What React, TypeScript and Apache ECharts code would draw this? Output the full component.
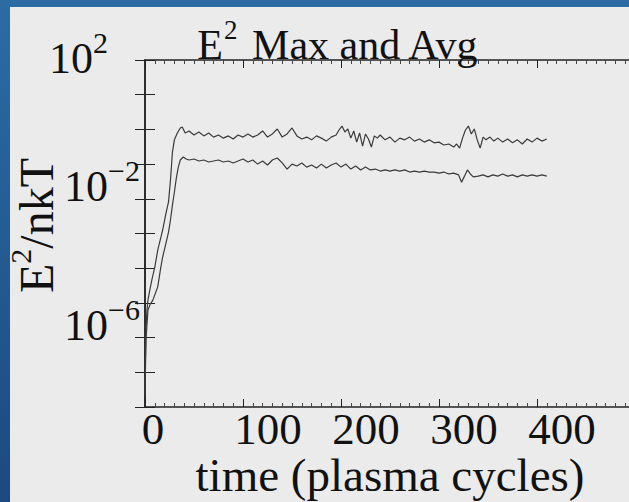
import React, { useEffect, useRef } from "react";
import * as echarts from "echarts";

const xTickLabels = [0, 100, 200, 300, 400];
const yLabelExponents = [2, -2, -6];

const maxTime = [
  0, 1, 2, 3, 5, 7, 10, 13, 16, 18, 21, 24, 26, 28, 30, 33, 36, 38, 41, 45,
  50, 55, 60, 65, 70, 75, 80, 85, 90, 95, 100, 105, 110, 115, 120, 125, 130,
  135, 140, 145, 150, 155, 160, 165, 170, 175, 180, 185, 190, 195, 198, 201,
  204, 207, 210, 213, 216, 219, 222, 225, 228, 231, 234, 237, 240, 245, 250,
  255, 260, 265, 270, 275, 280, 285, 290, 295, 300, 305, 310, 315, 318, 321,
  324, 327, 330, 333, 336, 339, 342, 345, 348, 352, 356, 360, 365, 370, 375,
  380, 385, 390, 395, 400, 405, 410,
];
const maxValues = [
  4.3e-8, 1.7e-6, 6.2e-6, 1.2e-5, 2.4e-5, 4.6e-5, 1.08e-4, 3.3e-4, 7.4e-4,
  1.26e-3, 3.4e-3, 8.1e-3, 0.035, 0.22, 0.5, 0.79, 1.1, 1.17, 0.79, 0.9,
  0.69, 0.84, 0.65, 0.79, 0.6, 0.69, 0.56, 0.65, 0.53, 0.69, 0.6, 0.74, 0.6,
  0.69, 0.9, 0.6, 0.74, 1.03, 0.6, 0.74, 1.1, 0.65, 0.53, 0.6, 0.5, 0.65,
  0.56, 0.46, 0.6, 0.69, 0.96, 1.25, 0.84, 1.03, 0.56, 0.9, 0.43, 0.79, 0.33,
  0.74, 0.53, 0.31, 0.65, 0.56, 0.69, 0.5, 0.6, 0.43, 0.56, 0.5, 0.6, 0.46,
  0.53, 0.43, 0.5, 0.41, 0.43, 0.355, 0.38, 0.31, 0.38, 0.29, 0.56, 0.96,
  1.25, 0.74, 1.03, 0.5, 0.29, 0.6, 0.5, 0.6, 0.46, 0.56, 0.43, 0.53, 0.41,
  0.5, 0.38, 0.53, 0.43, 0.56, 0.46, 0.53,
];

const avgTime = [
  0, 1, 3, 5, 8, 10, 13, 16, 18, 21, 24, 26, 28, 30, 32, 34, 36, 39, 42, 45,
  50, 55, 60, 65, 70, 75, 80, 85, 90, 95, 100, 105, 110, 115, 120, 125, 130,
  135, 140, 145, 150, 155, 160, 165, 170, 175, 180, 185, 190, 195, 200, 205,
  210, 215, 220, 225, 230, 235, 240, 245, 250, 255, 260, 265, 270, 275, 280,
  285, 290, 295, 300, 305, 310, 315, 320, 323, 326, 329, 332, 335, 340, 345,
  350, 355, 360, 365, 370, 375, 380, 385, 390, 395, 400, 405, 410,
];
const avgValues = [
  2.2e-8, 8.5e-7, 6.2e-6, 8.7e-6, 1.2e-5, 1.7e-5, 2.9e-5, 1.0e-4, 2.1e-4,
  4.7e-4, 1.1e-3, 2.45e-3, 6.6e-3, 0.0157, 0.04, 0.082, 0.131, 0.16, 0.14,
  0.131, 0.14, 0.123, 0.131, 0.115, 0.123, 0.131, 0.115, 0.123, 0.108, 0.123,
  0.14, 0.115, 0.131, 0.1, 0.123, 0.094, 0.131, 0.15, 0.108, 0.072, 0.1,
  0.088, 0.108, 0.082, 0.094, 0.077, 0.1, 0.077, 0.094, 0.108, 0.082, 0.1,
  0.072, 0.088, 0.068, 0.082, 0.068, 0.072, 0.063, 0.068, 0.063, 0.068,
  0.063, 0.068, 0.059, 0.063, 0.059, 0.063, 0.059, 0.059, 0.055, 0.059,
  0.052, 0.055, 0.049, 0.03, 0.045, 0.068, 0.052, 0.043, 0.045, 0.049, 0.043,
  0.049, 0.045, 0.052, 0.045, 0.049, 0.043, 0.049, 0.045, 0.049, 0.045,
  0.049, 0.045,
];

export default function App() {
  const ref = useRef<HTMLDivElement>(null);
  useEffect(() => {
    const chart = echarts.init(ref.current!, null, { renderer: "svg" });
    const font = "'Liberation Serif', 'Times New Roman', serif";
    const ink = "#222222";
    const txt = { fontFamily: font, color: "#111", fontWeight: "normal" as const };
    const xAxisCommon = {
      type: "value",
      min: 0,
      max: 500,
      interval: 100,
      axisLine: { show: true, lineStyle: { color: ink, width: 1.5 } },
      axisTick: { show: true, inside: true, length: 8, lineStyle: { color: ink } },
      minorTick: { show: true, splitNumber: 10, length: 4, lineStyle: { color: "#444" } },
      splitLine: { show: false },
    };
    const yAxisCommon = {
      type: "log",
      logBase: 10,
      min: 1e-8,
      max: 100,
      interval: 1,
      splitNumber: 10,
      axisLine: { show: true, lineStyle: { color: ink, width: 1.5 } },
      axisTick: { show: true, inside: true, length: 10, lineStyle: { color: ink } },
      splitLine: { show: false },
    };
    chart.setOption({
      animation: false,
      backgroundColor: new echarts.graphic.LinearGradient(0, 0, 0, 1, [
        { offset: 0, color: "#2b6ca5" },
        { offset: 1, color: "#1b4a80" },
      ]),
      graphic: [
        {
          type: "rect",
          z: -10,
          shape: { x: 10, y: 7, width: 640, height: 520 },
          style: { fill: "#ebebeb" },
        },
      ],
      title: {
        text: "{a|E}{s|2}{a| Max and Avg}",
        left: 333,
        top: 16,
        textAlign: "center",
        textStyle: {
          ...txt,
          rich: {
            a: { ...txt, fontSize: 42, lineHeight: 48 },
            s: { ...txt, fontSize: 27, lineHeight: 27, padding: [0, 3, 30, 1] },
          },
        },
      },
      grid: {
        left: 145,
        top: 60,
        right: -6,
        bottom: 95,
        containLabel: false,
        outerBoundsMode: "none",
      },
      xAxis: [
        {
          ...xAxisCommon,
          position: "bottom",
          name: "time (plasma cycles)",
          nameLocation: "middle",
          nameGap: 50,
          nameMoveOverlap: false,
          nameTextStyle: { ...txt, fontSize: 47, lineHeight: 36 },
          axisLabel: {
            show: true,
            margin: 2,
            ...txt,
            fontSize: 45,
            lineHeight: 40,
            formatter: (v: number) => {
              if (!xTickLabels.includes(v)) return "";
              return v === 0 ? `{z|${v}}` : `{n|${v}}`;
            },
            rich: {
              z: { ...txt, fontSize: 45, lineHeight: 40, padding: [0, 0, 0, 16] },
              n: { ...txt, fontSize: 45, lineHeight: 40, padding: [0, 0, 0, 50] },
            },
          },
        },
        { ...xAxisCommon, position: "top", axisLabel: { show: false } },
      ],
      yAxis: [
        {
          ...yAxisCommon,
          position: "left",
          name: "{a|E}{s|2}{a|/nkT}",
          nameLocation: "middle",
          nameGap: 85,
          nameMoveOverlap: false,
          nameRotate: 90,
          nameTextStyle: {
            ...txt,
            padding: [0, 0, 0, 16],
            rich: {
              a: { ...txt, fontSize: 48, lineHeight: 48 },
              s: { ...txt, fontSize: 30, lineHeight: 30, padding: [0, 0, 32, 0] },
            },
          },
          axisLabel: {
            show: true,
            margin: 5,
            ...txt,
            fontSize: 44,
            formatter: (v: number) => {
              const e = Math.round(Math.log10(v));
              if (!yLabelExponents.includes(e)) return "";
              if (e === 2) return `{bt|10}{st|${e}}`;
              return `{b|10}{s|${e < 0 ? "\u2212" : ""}${Math.abs(e)}}`;
            },
            rich: {
              b: { ...txt, fontSize: 44, lineHeight: 44, padding: [0, 0, 24, 0] },
              s: { ...txt, fontSize: 30, lineHeight: 30, padding: [0, 0, 56, 0] },
              bt: { ...txt, fontSize: 44, lineHeight: 44, padding: [0, 0, 4, 0] },
              st: { ...txt, fontSize: 30, lineHeight: 30, padding: [0, 32, 36, 0] },
            },
          },
        },
        { ...yAxisCommon, position: "right", axisLabel: { show: false } },
      ],
      series: [
        {
          name: "Max",
          type: "line",
          xAxisIndex: 0,
          yAxisIndex: 0,
          showSymbol: false,
          symbol: "none",
          lineStyle: { color: "#3a3a3a", width: 1.2 },
          data: maxTime.map((t, i) => [t, maxValues[i]]),
        },
        {
          name: "Avg",
          type: "line",
          xAxisIndex: 0,
          yAxisIndex: 0,
          showSymbol: false,
          symbol: "none",
          lineStyle: { color: "#3a3a3a", width: 1.2 },
          data: avgTime.map((t, i) => [t, avgValues[i]]),
        },
      ],
    });
    return () => chart.dispose();
  }, []);
  return (
    <div
      ref={ref}
      style={{ position: "fixed", left: 0, top: 0, width: 629, height: 502 }}
    />
  );
}
